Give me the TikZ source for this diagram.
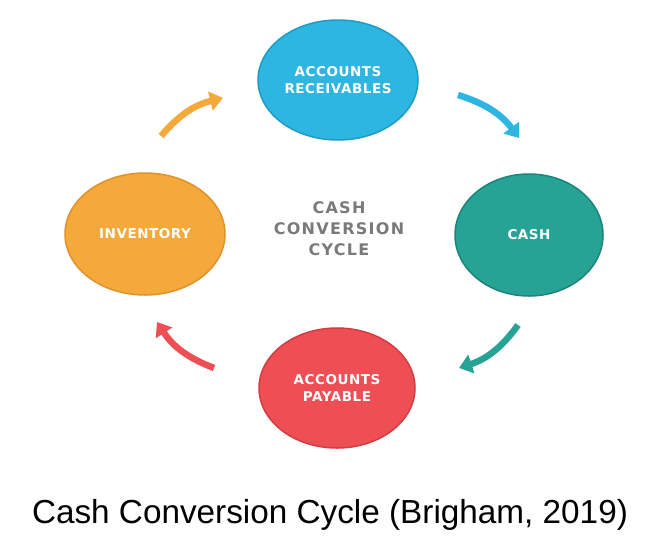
\documentclass[tikz,border=0pt]{standalone}
\usepackage{fontspec}
\setmainfont{Liberation Sans}
\newfontfamily\labelfont[LetterSpace=4]{DejaVu Sans}
\newfontfamily\centerfont[LetterSpace=8]{DejaVu Sans}
\usetikzlibrary{shapes.geometric,arrows.meta}
\definecolor{arblue}{HTML}{2DB6E1}
\definecolor{arblueD}{HTML}{1E9CC6}
\definecolor{cashteal}{HTML}{27A396}
\definecolor{cashtealD}{HTML}{1A857A}
\definecolor{invorange}{HTML}{F5A93A}
\definecolor{invorangeD}{HTML}{E0922A}
\definecolor{apred}{HTML}{EE4F55}
\definecolor{apredD}{HTML}{D53B42}
\definecolor{midgray}{HTML}{7A7A7A}
\tikzset{
  stage/.style={ellipse, line width=1.5pt, minimum width=#1, text=white,
    font=\labelfont\bfseries\fontsize{13.5}{17}\selectfont, align=center, inner sep=0pt},
  stage/.default=158pt,
  flow/.style={line width=6.5pt, -{Triangle[width=19pt,length=13pt]}},
}
\begin{document}
\begin{tikzpicture}[x=1pt,y=-1pt]
\useasboundingbox[fill=white] (0,0) rectangle (671,552);
\node[stage=160pt, minimum height=120pt, fill=arblue, draw=arblueD] (ar) at (338,80) {ACCOUNTS\\RECEIVABLES};
\node[stage=148pt, minimum height=122pt, fill=cashteal, draw=cashtealD] (cash) at (529,235) {CASH};
\node[stage=160pt, minimum height=122pt, fill=invorange, draw=invorangeD] (inv) at (145,234) {INVENTORY};
\node[stage=156pt, minimum height=120pt, fill=apred, draw=apredD] (ap) at (337,388) {ACCOUNTS\\PAYABLE};
\node[text=midgray, font=\centerfont\bfseries\fontsize{16}{21}\selectfont, align=center] (title) at (339,229) {CASH\\CONVERSION\\CYCLE};
\coordinate (o1) at (161,136); \coordinate (o2) at (223,98);
\coordinate (b1) at (458,95);  \coordinate (b2) at (519,138);
\coordinate (t1) at (518,325); \coordinate (t2) at (459,368);
\coordinate (r1) at (214,368); \coordinate (r2) at (157,322);
\draw[flow, invorange] (o1) to[bend left=18] (o2);
\draw[flow, arblue] (b1) to[bend left=18] (b2);
\draw[flow, cashteal] (t1) to[bend left=18] (t2);
\draw[flow, apred] (r1) to[bend left=18] (r2);
\node[font=\fontsize{33.3}{38}\selectfont, text=black] (cap) at (330,515) {Cash Conversion Cycle (Brigham, 2019)};
\end{tikzpicture}
\end{document}
